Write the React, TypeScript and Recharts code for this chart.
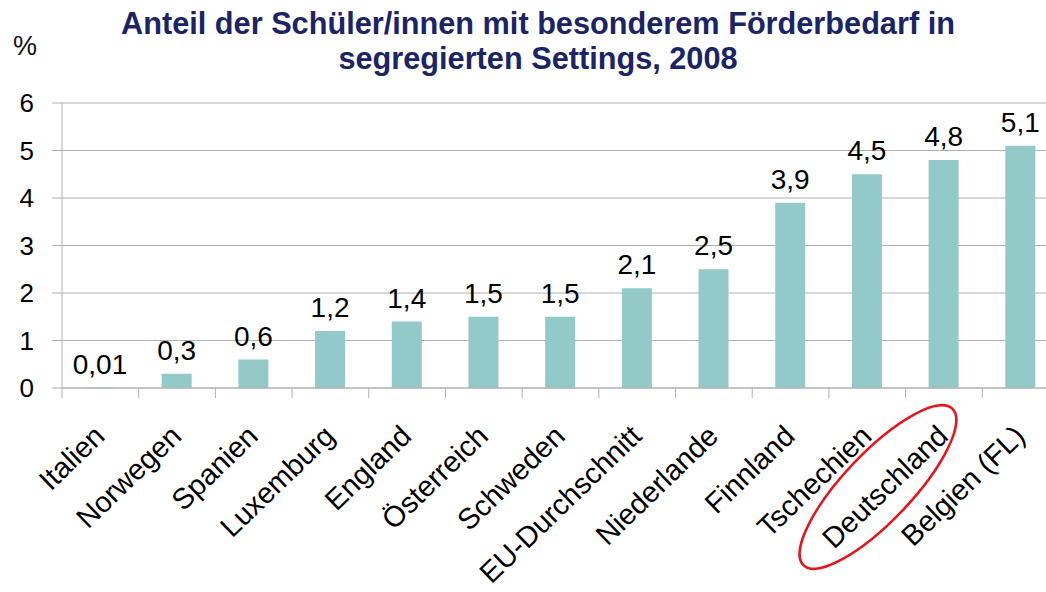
import { BarChart, Bar, XAxis, YAxis, CartesianGrid, LabelList } from "recharts";

const categories = [
  "Italien",
  "Norwegen",
  "Spanien",
  "Luxemburg",
  "England",
  "Österreich",
  "Schweden",
  "EU-Durchschnitt",
  "Niederlande",
  "Finnland",
  "Tschechien",
  "Deutschland",
  "Belgien (FL)",
];
const shares = [0.01, 0.3, 0.6, 1.2, 1.4, 1.5, 1.5, 2.1, 2.5, 3.9, 4.5, 4.8, 5.1];
const yTicks = [0, 1, 2, 3, 4, 5, 6];
const highlighted = "Deutschland";

const data = categories.map((name, i) => ({ name, value: shares[i] }));

const FONT = "'Liberation Sans', Arial, sans-serif";
const CHART_W = 1070;
const CHART_H = 592;
const MARGIN = { top: 103, right: 11, bottom: 0, left: 0 };
const Y_AXIS_W = 62;
const STEP = (CHART_W - MARGIN.left - MARGIN.right - Y_AXIS_W) / categories.length;
const GREY = "#b0b0b0";

function CategoryTick(props: any) {
  const { x, y, payload } = props;
  const ax = x + 6;
  const ay = y + 40;
  return (
    <g>
      <line x1={x - STEP / 2} y1={y - 10} x2={x - STEP / 2} y2={y} stroke={GREY} strokeWidth={1} />
      <text
        x={ax}
        y={ay}
        textAnchor="end"
        fontSize={29}
        fontFamily={FONT}
        fill="#000"
        transform={`rotate(-44, ${ax}, ${ay})`}
      >
        {payload.value}
      </text>
      {payload.value === highlighted && (
        <ellipse
          cx={x - 66}
          cy={y + 89}
          rx={108}
          ry={34}
          fill="none"
          stroke="#e8141b"
          strokeWidth={2.5}
          transform={`rotate(-46.5, ${x - 66}, ${y + 89})`}
        />
      )}
    </g>
  );
}

export default function App() {
  return (
    <div
      style={{
        position: "absolute",
        left: 0,
        top: 0,
        width: 1046,
        height: 592,
        overflow: "hidden",
        background: "#fff",
        fontFamily: FONT,
      }}
    >
      <div
        style={{
          position: "absolute",
          left: 0,
          width: 1076,
          top: 6,
          textAlign: "center",
          fontSize: 30.7,
          fontWeight: "bold",
          lineHeight: "35px",
          color: "#1b2466",
        }}
      >
        Anteil der Schüler/innen mit besonderem Förderbedarf in
        <br />
        segregierten Settings, 2008
      </div>
      <div style={{ position: "absolute", left: 13, top: 31, fontSize: 27, color: "#111" }}>%</div>
      <BarChart width={CHART_W} height={CHART_H} data={data} margin={MARGIN} barSize={30}>
        <CartesianGrid vertical={false} stroke={GREY} strokeWidth={1} />
        <XAxis
          dataKey="name"
          interval={0}
          height={204}
          axisLine={{ stroke: GREY }}
          tickLine={false}
          tickSize={10}
          tickMargin={0}
          tick={<CategoryTick />}
        />
        <YAxis
          domain={[0, 6]}
          ticks={yTicks}
          width={Y_AXIS_W}
          axisLine={{ stroke: GREY }}
          tickLine={{ stroke: GREY }}
          tickSize={10}
          tickMargin={18}
          tick={{ fontSize: 26, fill: "#000", fontFamily: FONT }}
        />
        <Bar dataKey="value" fill="#93c9c8" isAnimationActive={false}>
          <LabelList
            dataKey="value"
            position="top"
            offset={14}
            fontSize={28}
            fill="#000"
            fontFamily={FONT}
            formatter={(v: any) => String(v).replace(".", ",")}
          />
        </Bar>
      </BarChart>
    </div>
  );
}
